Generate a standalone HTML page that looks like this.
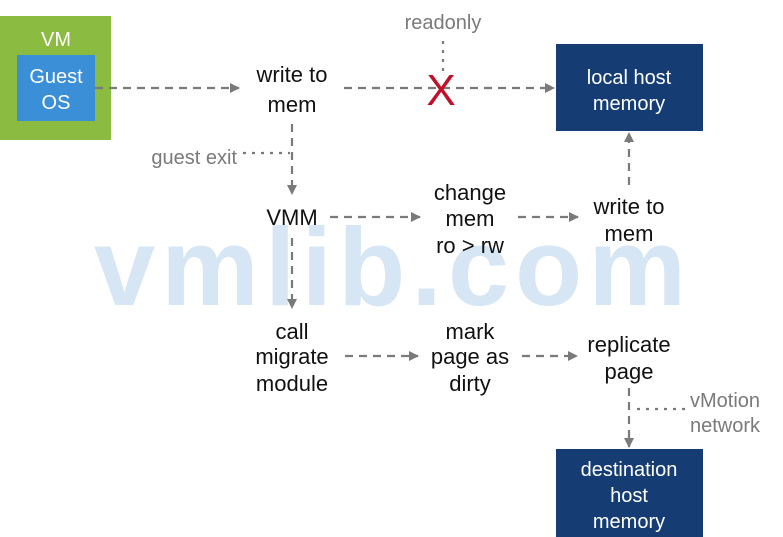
<!DOCTYPE html>
<html><head><meta charset="utf-8"><style>
html,body{margin:0;padding:0;background:#fff;width:783px;height:537px;overflow:hidden}
svg{display:block}
text{font-family:"Liberation Sans",sans-serif}
</style></head><body>
<svg width="783" height="537" viewBox="0 0 783 537" xmlns="http://www.w3.org/2000/svg">
<defs>
<marker id="a" markerWidth="10" markerHeight="10" refX="9" refY="5" orient="auto" markerUnits="userSpaceOnUse">
<path d="M0,0 L10,5 L0,10 z" fill="#7a7a7a"/></marker>
</defs>
<text x="393" y="305" text-anchor="middle" font-size="110" font-weight="bold" fill="#d6e6f4" letter-spacing="6">vmlib.com</text>

<rect x="0" y="16" width="111" height="124" fill="#8bbb40"/>
<text x="56" y="46" text-anchor="middle" font-size="20" fill="#fff">VM</text>
<rect x="17" y="55" width="78" height="66" fill="#3a8fd6"/>
<text x="56" y="83" text-anchor="middle" font-size="20" fill="#fff">Guest</text>
<text x="56" y="109" text-anchor="middle" font-size="20" fill="#fff">OS</text>

<rect x="556" y="44" width="147" height="87" fill="#163d73"/>
<text x="629" y="84" text-anchor="middle" font-size="20" fill="#fff">local host</text>
<text x="629" y="110" text-anchor="middle" font-size="20" fill="#fff">memory</text>

<rect x="556" y="449" width="147" height="88" fill="#163d73"/>
<text x="629" y="476" text-anchor="middle" font-size="20" fill="#fff">destination</text>
<text x="629" y="502" text-anchor="middle" font-size="20" fill="#fff">host</text>
<text x="629" y="528" text-anchor="middle" font-size="20" fill="#fff">memory</text>

<g stroke="#7a7a7a" stroke-width="2.2" stroke-dasharray="8,6" fill="none">
<line x1="95" y1="88" x2="239" y2="88" marker-end="url(#a)"/>
<line x1="344" y1="88" x2="554" y2="88" marker-end="url(#a)"/>
<line x1="292" y1="124" x2="292" y2="194" marker-end="url(#a)"/>
<line x1="330" y1="217" x2="420" y2="217" marker-end="url(#a)"/>
<line x1="518" y1="217" x2="578" y2="217" marker-end="url(#a)"/>
<line x1="629" y1="185" x2="629" y2="133" marker-end="url(#a)"/>
<line x1="292" y1="238" x2="292" y2="308" marker-end="url(#a)"/>
<line x1="345" y1="356" x2="418" y2="356" marker-end="url(#a)"/>
<line x1="522" y1="356" x2="577" y2="356" marker-end="url(#a)"/>
<line x1="629" y1="388" x2="629" y2="447" marker-end="url(#a)"/>
</g>
<g stroke="#7a7a7a" stroke-width="2.2" stroke-dasharray="3,6" fill="none">
<line x1="443" y1="41" x2="443" y2="74"/>
<line x1="243" y1="153" x2="290" y2="153"/>
<line x1="637" y1="409" x2="686" y2="409"/>
</g>

<text x="441" y="105" text-anchor="middle" font-size="44" fill="#c0102a">X</text>

<g font-size="22" fill="#111" text-anchor="middle">
<text x="292" y="82">write to</text><text x="292" y="112">mem</text>
<text x="292" y="225">VMM</text>
<text x="470" y="200">change</text><text x="470" y="226">mem</text><text x="470" y="253">ro &gt; rw</text>
<text x="629" y="214">write to</text><text x="629" y="241">mem</text>
<text x="292" y="339">call</text><text x="292" y="364">migrate</text><text x="292" y="391">module</text>
<text x="470" y="339">mark</text><text x="470" y="364">page as</text><text x="470" y="391">dirty</text>
<text x="629" y="352">replicate</text><text x="629" y="379">page</text>
</g>
<g font-size="20" fill="#7a7a7a">
<text x="443" y="29" text-anchor="middle">readonly</text>
<text x="237" y="164" text-anchor="end">guest exit</text>
<text x="690" y="407">vMotion</text>
<text x="690" y="432">network</text>
</g>
</svg>
</body></html>
